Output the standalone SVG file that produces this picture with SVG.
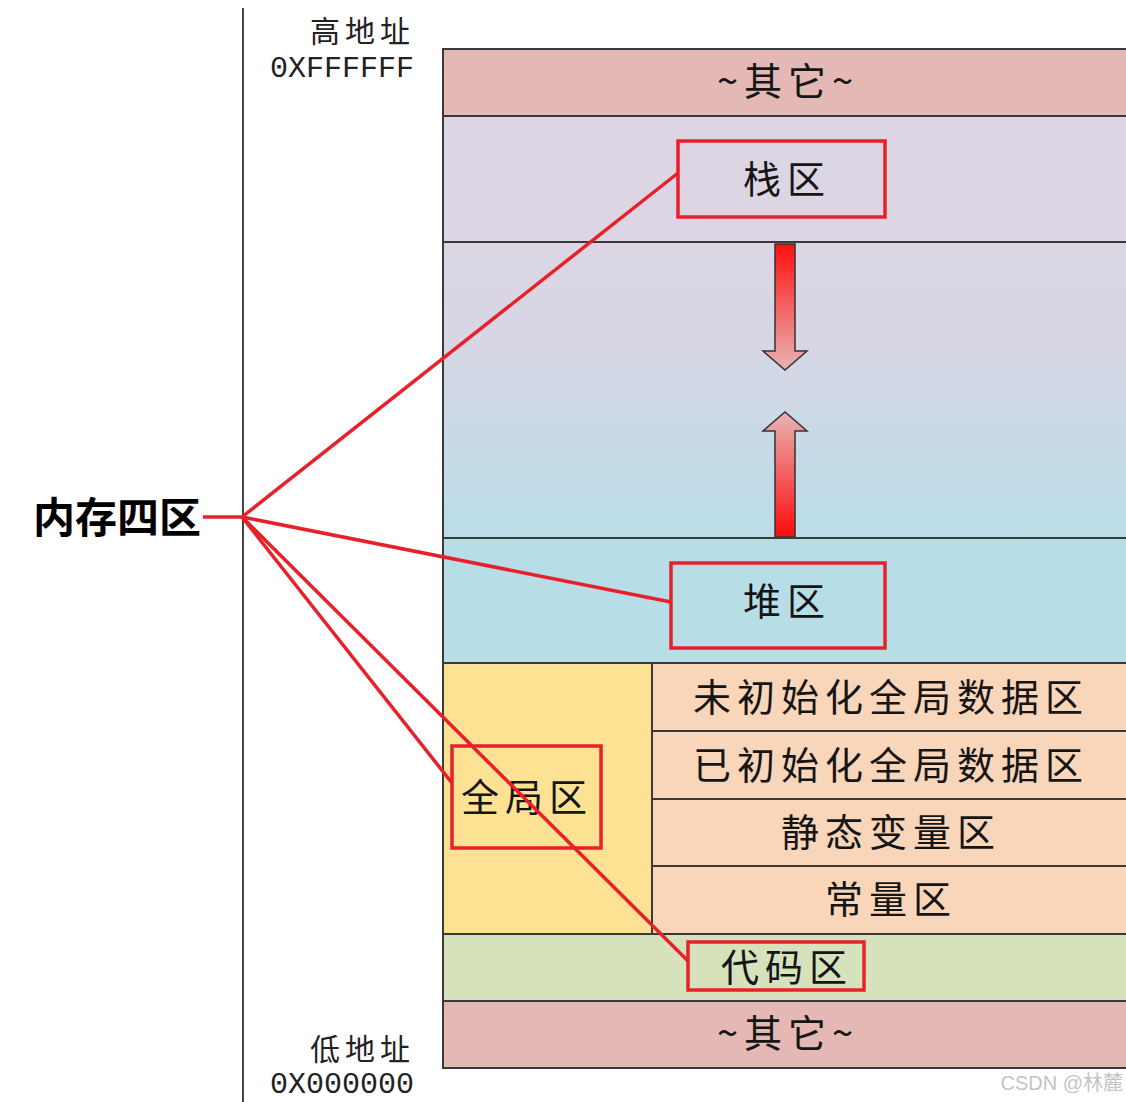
<svg xmlns="http://www.w3.org/2000/svg" width="1126" height="1102" viewBox="0 0 1126 1102">
<style>
.cell{stroke:#3a3a3a;stroke-width:2}
.t{font-family:"Noto Sans CJK SC","Noto Sans",sans-serif;font-size:38px;letter-spacing:6px;fill:#151515;text-anchor:middle}
.addr{font-family:"Noto Sans CJK SC","Noto Sans",sans-serif;font-size:30px;letter-spacing:5px;fill:#222;text-anchor:end}
.hex{font-family:"Liberation Mono",monospace;font-size:30px;fill:#222;text-anchor:end}
.rb{fill:none;stroke:#e8202a;stroke-width:3.5}
.rl{stroke:#e8202a;stroke-width:3.5;fill:none}
.arrow{stroke:#333;stroke-width:1.5}
</style>
<defs>
<linearGradient id="mid" x1="0" y1="0" x2="0" y2="1">
<stop offset="0" stop-color="#dcd6e4"/>
<stop offset="0.35" stop-color="#d7d6e4"/>
<stop offset="1" stop-color="#b9dde8"/>
</linearGradient>
<linearGradient id="down" x1="0" y1="0" x2="0" y2="1">
<stop offset="0" stop-color="#ff1010"/>
<stop offset="1" stop-color="#e8b4b4"/>
</linearGradient>
<linearGradient id="up" x1="0" y1="1" x2="0" y2="0">
<stop offset="0" stop-color="#ff0a0a"/>
<stop offset="1" stop-color="#e8b4b4"/>
</linearGradient>
</defs>
<rect width="1126" height="1102" fill="#ffffff"/>
<line x1="243" y1="8" x2="243" y2="1102" stroke="#444" stroke-width="2"/>
<g id="addr-high">
<text class="addr" x="415" y="42">高地址</text>
<text class="hex" x="414" y="77">0XFFFFFF</text>
</g>
<g id="addr-low">
<text class="addr" x="415" y="1060">低地址</text>
<text class="hex" x="414" y="1093">0X000000</text>
</g>
<g id="other-top">
<rect class="cell" x="443" y="49" width="690" height="67" fill="#e4b8b4"/>
<text class="t" x="788" y="95">~其它~</text>
</g>
<g id="stack">
<rect class="cell" x="443" y="116" width="690" height="126" fill="#dcd6e4"/>
<text class="t" x="787" y="193">栈区</text>
</g>
<g id="free">
<rect class="cell" x="443" y="242" width="690" height="296" fill="url(#mid)"/>
<path class="arrow" d="M775 244 H795 V351 H807 L785 370 L763 351 H775 Z" fill="url(#down)"/>
<path class="arrow" d="M775 537 H795 V431 H807 L785 412 L763 431 H775 Z" fill="url(#up)"/>
</g>
<g id="heap">
<rect class="cell" x="443" y="538" width="690" height="125" fill="#b7dde7"/>
<text class="t" x="787" y="615">堆区</text>
</g>
<g id="global">
<rect class="cell" x="443" y="663" width="209" height="271" fill="#fde294"/>
<text class="t" x="527" y="811">全局区</text>
</g>
<g id="bss">
<rect class="cell" x="652" y="663" width="481" height="68" fill="#f9d5b9"/>
<text class="t" x="891" y="711">未初始化全局数据区</text>
</g>
<g id="data">
<rect class="cell" x="652" y="731" width="481" height="68" fill="#f9d5b9"/>
<text class="t" x="891" y="779">已初始化全局数据区</text>
</g>
<g id="static">
<rect class="cell" x="652" y="799" width="481" height="67" fill="#f9d5b9"/>
<text class="t" x="891" y="846">静态变量区</text>
</g>
<g id="const">
<rect class="cell" x="652" y="866" width="481" height="68" fill="#f9d5b9"/>
<text class="t" x="891" y="913">常量区</text>
</g>
<g id="code">
<rect class="cell" x="443" y="934" width="690" height="67" fill="#d6e2bc"/>
<text class="t" x="787" y="981">代码区</text>
</g>
<g id="other-bottom">
<rect class="cell" x="443" y="1001" width="690" height="67" fill="#e4b8b4"/>
<text class="t" x="788" y="1047">~其它~</text>
</g>
<g id="label-main">
<text x="117" y="533" font-family="'Noto Sans CJK SC','Noto Sans',sans-serif" font-size="42" font-weight="bold" fill="#000" text-anchor="middle">内存四区</text>
</g>
<g id="red-boxes">
<rect class="rb" x="678" y="141" width="207" height="76"/>
<rect class="rb" x="671" y="563" width="214" height="85"/>
<rect class="rb" x="452" y="746" width="149" height="102"/>
<rect class="rb" x="688" y="942" width="176" height="48"/>
</g>
<g id="connectors">
<line class="rl" x1="203" y1="517" x2="242" y2="517"/>
<line class="rl" x1="242" y1="517" x2="678" y2="173"/>
<line class="rl" x1="242" y1="517" x2="671" y2="602"/>
<line class="rl" x1="242" y1="517" x2="452" y2="783"/>
<line class="rl" x1="242" y1="517" x2="688" y2="961"/>
</g>
<text x="1123" y="1090" font-family="'Liberation Sans','Noto Sans CJK SC',sans-serif" font-size="20" fill="#c4c4c4" text-anchor="end">CSDN @林麓</text>
</svg>
